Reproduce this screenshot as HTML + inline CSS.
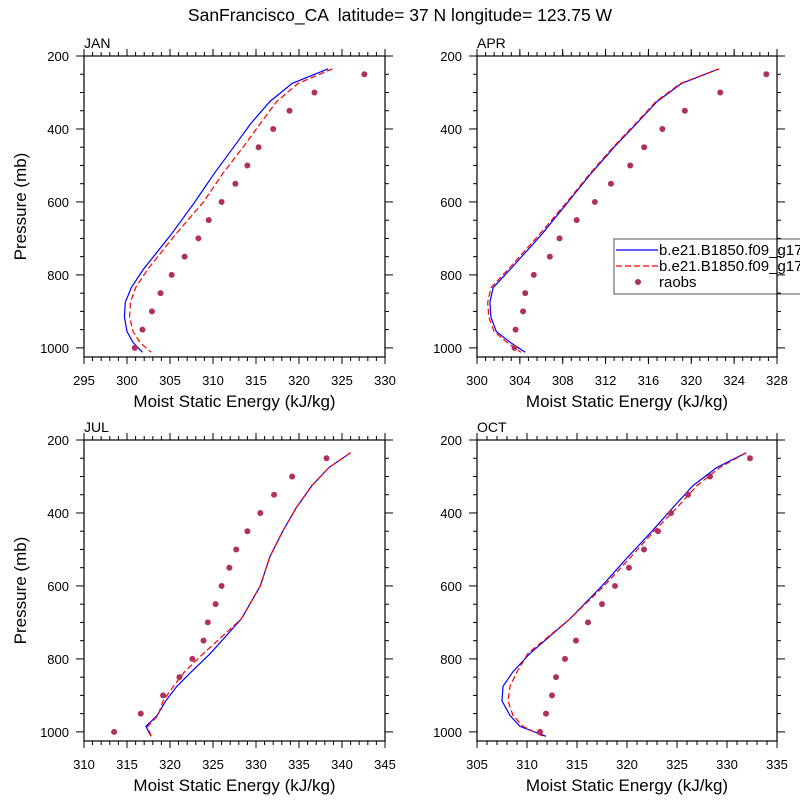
<!DOCTYPE html>
<html><head><meta charset="utf-8"><style>
html,body{margin:0;padding:0;background:#fff;width:800px;height:800px;overflow:hidden}
svg{display:block;font-family:"Liberation Sans",Arial,sans-serif}
</style></head><body>
<svg id="chart" width="800" height="800" viewBox="0 0 800 800" xmlns="http://www.w3.org/2000/svg">
<text x="400" y="21" text-anchor="middle" font-size="17.5" style="white-space:pre">SanFrancisco_CA  latitude= 37 N longitude= 123.75 W</text>
</svg>
<script>
const modelP=[235,275,325,385,450,520,600,690,785,835,875,915,955,985,1012];
const obsP=[250,300,350,400,450,500,550,600,650,700,750,800,850,900,950,1000];
const pTicks=[200,400,600,800,1000];
const janBlue=[323.4,319.2,316.6,314.4,312.4,310.2,307.9,305.1,301.9,300.5,299.8,299.7,300.0,300.7,301.8];
const janRed=[323.9,319.9,317.4,315.5,313.5,311.2,308.9,305.6,302.4,301.0,300.4,300.3,300.7,301.5,302.8];
const janObs=[327.6,321.8,318.9,317.0,315.3,314.0,312.6,311.0,309.5,308.3,306.7,305.2,303.9,302.9,301.8,300.9];
const aprBlue=[322.6,319.1,316.8,314.9,312.8,310.7,308.5,306.0,303.1,301.5,301.2,301.3,301.8,303.1,304.5];
const aprRed=[322.6,319.0,316.7,314.8,312.7,310.6,308.4,305.8,302.9,301.3,301.0,301.1,301.6,302.8,304.1];
const aprObs=[327.0,322.7,319.4,317.3,315.6,314.3,312.5,311.0,309.3,307.7,306.8,305.3,304.5,304.3,303.6,303.5];
const julBlue=[341.0,338.5,336.5,334.7,333.1,331.6,330.5,328.3,324.7,322.5,320.8,319.5,318.5,317.2,317.8];
const julRed=[341.0,338.5,336.5,334.7,333.1,331.6,330.5,328.3,323.9,321.7,320.4,319.2,318.6,317.4,317.8];
const julObs=[338.2,334.2,332.1,330.5,329.0,327.7,326.9,326.0,325.3,324.4,323.9,322.6,321.1,319.2,316.6,313.5];
const octBlue=[331.9,329.0,326.6,324.6,322.5,320.1,317.5,314.3,310.3,308.6,307.6,307.5,308.3,309.3,311.9];
const octRed=[331.9,329.3,327.0,325.0,322.7,320.4,317.7,314.3,310.1,309.0,308.3,308.1,308.6,309.6,311.6];
const octObs=[332.3,328.3,326.1,324.4,323.1,321.7,320.2,318.8,317.5,316.1,314.9,313.8,312.9,312.5,311.9,311.3];
const janX=[295,300,305,310,315,320,325,330];
const aprX=[300,304,308,312,316,320,324,328];
const julX=[310,315,320,325,330,335,340,345];
const octX=[305,310,315,320,325,330,335];

const NS="http://www.w3.org/2000/svg";
const svg=document.getElementById('chart');
function mk(tag,attrs,parent){const e=document.createElementNS(NS,tag);for(const k in attrs)e.setAttribute(k,attrs[k]);(parent||svg).appendChild(e);return e;}

const panels=[
 {name:'jan',title:'JAN',x0:84,x1:385,y0:56,y1:357,ticks:janX,minor:1,blue:janBlue,red:janRed,obs:janObs,ytitle:true},
 {name:'apr',title:'APR',x0:477,x1:777,y0:56,y1:357,ticks:aprX,minor:0.8,blue:aprBlue,red:aprRed,obs:aprObs,ytitle:false,legend:true},
 {name:'jul',title:'JUL',x0:84,x1:385,y0:440,y1:741,ticks:julX,minor:1,blue:julBlue,red:julRed,obs:julObs,ytitle:true},
 {name:'oct',title:'OCT',x0:477,x1:777,y0:440,y1:741,ticks:octX,minor:1,blue:octBlue,red:octRed,obs:octObs,ytitle:false}
];

panels.forEach(P=>{
 const g=mk('g',{});
 
 
 const xmin=P.ticks[0],xmax=P.ticks[P.ticks.length-1];
 const sx=v=>P.x0+(v-xmin)/(xmax-xmin)*(P.x1-P.x0);
 const sy=p=>P.y0+(p-200)/825*(P.y1-P.y0);
 const line=(vals,col,dash,nm)=>{
  const pts=vals.map((v,i)=>sx(v).toFixed(1)+','+sy(modelP[i]).toFixed(1)).join(' ');
  const l=mk('polyline',{points:pts,fill:'none',stroke:col,'stroke-width':1.2},g);
  if(dash)l.setAttribute('stroke-dasharray','6,3');
  
  
 };
 line(P.blue,'#0000ff',false,P.name+'-model1-line');
 line(P.red,'#ff0000',true,P.name+'-model2-line');
 P.obs.forEach((v,i)=>{
  const c=mk('circle',{cx:sx(v),cy:sy(obsP[i]),r:3,fill:'#b03060'},g);
  
  
 });
 if(P.legend){
  const lg=mk('g',{},svg);
  
  
  mk('rect',{x:614,y:239,width:200,height:55,fill:'#fff',stroke:'#555','stroke-width':1},lg);
  mk('line',{x1:616,y1:250,x2:658,y2:250,stroke:'#0000ff','stroke-width':1.2},lg);
  mk('line',{x1:616,y1:266,x2:658,y2:266,stroke:'#ff0000','stroke-width':1.2,'stroke-dasharray':'6,3'},lg);
  mk('circle',{cx:638,cy:282,r:3,fill:'#b03060'},lg);
  const labs=['b.e21.B1850.f09_g17.CMIP6','b.e21.B1850.f09_g17.CMIP6','raobs'];
  labs.forEach((t,i)=>{const e=mk('text',{x:659,y:255+i*16,'font-size':15},lg);e.textContent=t;
   
   });
 }
 const fr=mk('rect',{x:P.x0,y:P.y0,width:P.x1-P.x0,height:P.y1-P.y0,fill:'none',stroke:'#000','stroke-width':1.2},svg);
 
 
 for(let v=xmin;v<=xmax+1e-6;v+=P.minor){
  const x=sx(v);
  mk('line',{x1:x,y1:P.y1,x2:x,y2:P.y1+4,stroke:'#000','stroke-width':1},svg);
  mk('line',{x1:x,y1:P.y0,x2:x,y2:P.y0-4,stroke:'#000','stroke-width':1},svg);
 }
 P.ticks.forEach(v=>{
  const x=sx(v);
  mk('line',{x1:x,y1:P.y1,x2:x,y2:P.y1+7,stroke:'#000','stroke-width':1},svg);
  mk('line',{x1:x,y1:P.y0,x2:x,y2:P.y0-7,stroke:'#000','stroke-width':1},svg);
  const t=mk('text',{x:x,y:P.y1+28,'text-anchor':'middle','font-size':13},svg);t.textContent=v;
  
  
 });
 for(let p=250;p<=1000;p+=50){
  const y=sy(p),maj=p%200===0;const L=maj?8:4;
  mk('line',{x1:P.x0-L,y1:y,x2:P.x0,y2:y,stroke:'#000','stroke-width':1},svg);
  mk('line',{x1:P.x1,y1:y,x2:P.x1+L,y2:y,stroke:'#000','stroke-width':1},svg);
 }
 mk('line',{x1:P.x0-8,y1:sy(200),x2:P.x0,y2:sy(200),stroke:'#000'},svg);
 mk('line',{x1:P.x1,y1:sy(200),x2:P.x1+8,y2:sy(200),stroke:'#000'},svg);
 pTicks.forEach(p=>{
  const t=mk('text',{x:P.x0-15,y:sy(p)+5,'text-anchor':'end','font-size':13},svg);t.textContent=p;
  
  
 });
 const tt=mk('text',{x:P.x0,y:P.y0-8,'font-size':14},svg);tt.textContent=P.title;
 
 
 const xt=mk('text',{x:(P.x0+P.x1)/2,y:P.y1+50,'text-anchor':'middle','font-size':17},svg);xt.textContent='Moist Static Energy (kJ/kg)';
 
 
 if(P.ytitle){
  const cy=(P.y0+P.y1)/2;
  const yt=mk('text',{x:26,y:cy,'text-anchor':'middle','font-size':17,transform:'rotate(-90 26 '+cy+')'},svg);yt.textContent='Pressure (mb)';
  
  
 }
});
</script>
</body></html>
